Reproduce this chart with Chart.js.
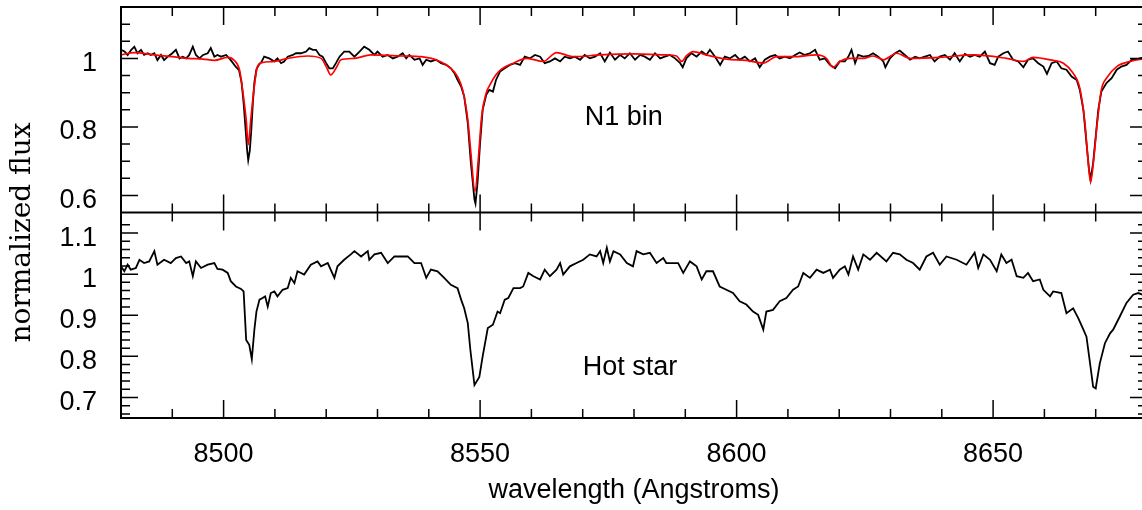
<!DOCTYPE html>
<html>
<head>
<meta charset="utf-8">
<script src="https://cdn.jsdelivr.net/npm/chart.js@4.4.1/dist/chart.umd.min.js"></script>
<style>
  html, body { margin: 0; padding: 0; background: #fff; overflow: hidden; }
  #wrap { position: relative; width: 1147px; height: 510px; }
</style>
</head>
<body>
<div id="wrap"><canvas id="spectra"></canvas></div>
<script>
// N1 bin observed spectrum (black, top panel)
const n1Wave = [
  8480, 8480.7, 8481.3, 8482.0, 8482.6, 8483.2, 8483.9, 8484.5, 8485.2, 8485.8,
  8486.5, 8487.1, 8487.8, 8488.4, 8489.1, 8490.0, 8490.7, 8491.4, 8492.0, 8492.7,
  8493.3, 8494.0, 8494.6, 8495.3, 8496.0, 8496.9, 8497.5, 8498.2, 8498.8, 8499.5,
  8500.5, 8501.4, 8502.4, 8503.0, 8503.5, 8503.9, 8504.3, 8504.6, 8504.8, 8505.1,
  8505.4, 8505.7, 8506.0, 8506.4, 8506.9, 8507.4, 8507.9, 8508.9, 8509.9, 8510.5,
  8511.2, 8511.8, 8512.5, 8513.5, 8514.1, 8515.1, 8516.1, 8516.7, 8517.4, 8518.0,
  8518.7, 8519.3, 8520.0, 8520.6, 8521.3, 8521.9, 8522.6, 8523.5, 8524.5, 8525.5,
  8526.5, 8527.4, 8528.4, 8529.4, 8530.0, 8531.0, 8532.0, 8533.0, 8533.9, 8534.9,
  8535.6, 8536.2, 8537.2, 8538.2, 8538.8, 8539.5, 8540.4, 8541.4, 8542.4, 8543.4,
  8544.3, 8545.0, 8545.6, 8546.3, 8546.9, 8547.6, 8548.2, 8548.9, 8549.1, 8549.5,
  8550.0, 8550.5, 8551.2, 8551.8, 8552.5, 8553.1, 8553.9, 8554.8, 8555.8, 8556.8,
  8557.8, 8558.7, 8559.7, 8560.7, 8561.7, 8562.6, 8563.6, 8564.6, 8565.6, 8566.5,
  8567.5, 8568.5, 8569.5, 8570.4, 8571.4, 8572.4, 8573.4, 8574.3, 8575.3, 8576.3,
  8577.3, 8578.2, 8579.2, 8580.2, 8581.2, 8582.1, 8583.1, 8584.1, 8585.1, 8586.0,
  8587.0, 8588.0, 8589.0, 8589.5, 8590.2, 8591.2, 8592.2, 8593.2, 8594.1, 8594.8,
  8595.8, 8596.8, 8597.7, 8598.7, 8599.7, 8600.6, 8601.6, 8602.6, 8603.6, 8604.5,
  8605.5, 8606.5, 8607.5, 8608.4, 8609.4, 8610.4, 8611.4, 8612.3, 8613.3, 8614.3,
  8615.3, 8616.2, 8617.2, 8618.2, 8619.2, 8620.1, 8621.1, 8621.8, 8622.4, 8623.1,
  8623.7, 8624.7, 8625.7, 8626.6, 8627.6, 8628.6, 8629.0, 8629.9, 8630.9, 8631.8,
  8632.8, 8633.8, 8634.8, 8635.7, 8636.7, 8637.7, 8638.6, 8639.6, 8640.6, 8641.6,
  8642.5, 8643.5, 8644.5, 8645.5, 8646.4, 8647.4, 8648.4, 8649.4, 8650.3, 8651.0,
  8652.0, 8652.9, 8653.9, 8654.9, 8655.9, 8656.8, 8657.8, 8658.8, 8659.8, 8660.5,
  8661.4, 8662.4, 8663.3, 8664.3, 8665.3, 8666.3, 8666.9, 8667.6, 8668.2, 8668.7,
  8669.0, 8669.5, 8670.0, 8670.5, 8671.1, 8672.1, 8673.1, 8674.1, 8675.0, 8676.0,
  8677.0, 8678.0, 8680.0
];
const n1Flux = [
  1.025, 1.020, 1.010, 1.025, 1.034, 1.015, 1.025, 1.010, 1.015, 1.010,
  1.015, 0.995, 1.010, 0.995, 1.005, 1.015, 1.025, 1.000, 1.005, 1.000,
  1.010, 1.034, 1.010, 1.000, 1.010, 1.015, 1.030, 1.005, 1.010, 1.005,
  1.010, 0.995, 0.975, 0.966, 0.930, 0.870, 0.790, 0.730, 0.703, 0.730,
  0.790, 0.870, 0.930, 0.968, 0.982, 0.990, 1.005, 1.000, 0.991, 1.000,
  0.986, 0.991, 1.005, 1.010, 1.015, 1.015, 1.020, 1.030, 1.025, 1.025,
  1.010, 1.005, 0.986, 0.971, 0.971, 0.986, 1.005, 1.020, 1.020, 1.005,
  1.020, 1.034, 1.025, 1.010, 1.020, 1.005, 1.010, 1.000, 1.005, 1.015,
  1.000, 1.010, 0.996, 1.000, 0.981, 0.996, 0.991, 0.996, 0.986, 0.981,
  0.971, 0.957, 0.937, 0.918, 0.889, 0.811, 0.695, 0.588, 0.576, 0.637,
  0.753, 0.850, 0.894, 0.908, 0.903, 0.937, 0.962, 0.971, 0.981, 0.986,
  0.981, 1.005, 1.000, 1.010, 1.005, 0.986, 0.991, 1.000, 0.991, 1.005,
  1.000, 1.005, 0.996, 1.010, 1.000, 1.005, 1.015, 0.991, 1.017, 0.996,
  1.010, 1.000, 1.015, 0.996, 1.010, 1.005, 0.996, 1.015, 1.000, 1.005,
  1.010, 1.000, 0.986, 0.974, 1.000, 1.015, 1.005, 1.020, 1.010, 1.025,
  1.005, 0.981, 1.005, 1.000, 1.010, 0.996, 1.005, 0.991, 1.000, 0.974,
  0.996, 1.005, 1.010, 1.000, 1.005, 1.000, 1.010, 1.017, 1.010, 1.015,
  1.025, 0.996, 1.000, 0.981, 0.971, 0.991, 0.991, 1.005, 1.025, 0.986,
  1.010, 1.005, 1.007, 1.015, 1.005, 0.991, 0.974, 1.000, 1.015, 1.023,
  1.010, 0.996, 1.005, 1.000, 1.005, 1.010, 0.991, 1.005, 1.010, 0.996,
  1.015, 0.991, 1.013, 1.005, 1.010, 1.005, 1.020, 0.986, 0.981, 1.005,
  1.015, 1.020, 0.996, 0.991, 0.974, 0.996, 1.000, 0.986, 0.976, 0.955,
  0.986, 0.991, 0.971, 0.967, 0.947, 0.937, 0.908, 0.850, 0.753, 0.675,
  0.646, 0.695, 0.772, 0.850, 0.903, 0.928, 0.942, 0.967, 0.976, 0.981,
  0.996, 0.998, 1.005
];

// model fit (red, top panel)
const fitWave = [
  8480, 8482.6, 8486.5, 8490.0, 8493.0, 8496.0, 8498.2, 8500.8, 8502.1, 8503.1,
  8503.7, 8504.4, 8504.8, 8505.3, 8505.9, 8506.6, 8507.6, 8509.9, 8512.5, 8516.4,
  8519.0, 8520.0, 8520.9, 8521.9, 8522.9, 8525.5, 8528.7, 8535.2, 8538.5, 8541.7,
  8544.3, 8545.6, 8546.6, 8547.6, 8548.2, 8549.0, 8549.7, 8550.3, 8551.2, 8552.1,
  8553.1, 8554.1, 8556.5, 8559.1, 8562.3, 8564.9, 8568.2, 8573.4, 8579.8, 8586.3,
  8588.3, 8589.3, 8590.2, 8591.5, 8594.1, 8598.0, 8601.9, 8605.2, 8607.8, 8611.0,
  8615.6, 8617.5, 8618.8, 8620.1, 8622.1, 8624.7, 8626.6, 8628.6, 8631.2, 8633.8,
  8639.6, 8646.1, 8652.6, 8655.9, 8657.8, 8661.7, 8663.7, 8665.6, 8666.9, 8667.9,
  8668.5, 8669.0, 8669.6, 8670.3, 8671.1, 8672.1, 8674.1, 8676.7, 8680.0
];
const fitFlux = [
  1.010, 1.017, 1.010, 1.005, 1.000, 0.998, 0.994, 1.003, 0.994, 0.966,
  0.908, 0.821, 0.748, 0.821, 0.908, 0.976, 0.988, 0.991, 1.000, 1.007,
  1.000, 0.976, 0.952, 0.971, 0.996, 1.000, 1.010, 1.007, 1.005, 0.994,
  0.971, 0.947, 0.908, 0.821, 0.724, 0.612, 0.714, 0.830, 0.899, 0.928,
  0.952, 0.968, 0.986, 1.000, 0.991, 1.017, 1.005, 1.010, 1.013, 1.010,
  1.007, 0.991, 1.007, 1.020, 1.010, 0.998, 0.994, 0.986, 1.005, 1.005,
  1.010, 1.000, 0.974, 0.991, 1.000, 1.000, 1.007, 0.996, 1.015, 1.000,
  1.003, 1.010, 1.000, 0.991, 1.003, 0.994, 0.986, 0.957, 0.913, 0.811,
  0.704, 0.638, 0.704, 0.811, 0.908, 0.942, 0.976, 0.991, 1.000
];

// hot star spectrum (black, bottom panel)
const hotWave = [
  8480, 8480.65, 8481.3, 8481.9, 8482.9, 8483.6, 8484.5, 8485.5, 8486.5, 8487.1,
  8488.4, 8489.7, 8490.7, 8491.7, 8492.7, 8493.3, 8494.0, 8494.6, 8495.6, 8496.9,
  8498.2, 8498.8, 8499.8, 8500.8, 8501.4, 8502.4, 8503.4, 8503.9, 8504.4, 8505.0,
  8505.5, 8506.0, 8506.4, 8507.0, 8507.6, 8508.1, 8508.6, 8509.2, 8509.9, 8510.5,
  8511.5, 8512.5, 8513.1, 8513.8, 8514.4, 8515.7, 8517.0, 8518.3, 8519.0, 8520.3,
  8521.6, 8522.2, 8523.5, 8524.8, 8525.5, 8526.8, 8528.1, 8528.4, 8529.4, 8530.7,
  8532.0, 8533.3, 8534.6, 8535.9, 8537.2, 8538.5, 8539.5, 8540.4, 8541.7, 8543.0,
  8544.3, 8545.6, 8546.3, 8546.9, 8547.6, 8548.1, 8548.9, 8549.85, 8550.5, 8551.5,
  8552.5, 8553.4, 8553.9, 8554.8, 8555.5, 8556.5, 8557.8, 8558.4, 8559.4, 8560.4,
  8561.7, 8562.6, 8563.6, 8564.9, 8565.6, 8566.2, 8567.5, 8568.8, 8570.1, 8571.4,
  8572.7, 8573.4, 8574.0, 8574.7, 8575.3, 8576.0, 8577.3, 8578.6, 8579.8, 8580.5,
  8581.8, 8583.1, 8584.4, 8585.7, 8586.3, 8587.6, 8588.6, 8589.6, 8590.9, 8592.2,
  8593.2, 8594.1, 8595.4, 8596.7, 8598.0, 8599.3, 8600.6, 8601.9, 8603.2, 8604.2,
  8605.2, 8605.8, 8607.1, 8608.4, 8609.7, 8611.0, 8612.0, 8613.0, 8614.3, 8615.6,
  8616.9, 8618.2, 8618.8, 8620.1, 8621.1, 8621.8, 8622.7, 8623.7, 8624.7, 8626.0,
  8627.3, 8629.2, 8630.5, 8631.8, 8633.1, 8634.4, 8635.7, 8637.0, 8638.3, 8639.6,
  8640.9, 8642.9, 8644.8, 8646.4, 8647.1, 8648.1, 8649.4, 8650.7, 8651.6, 8652.6,
  8653.6, 8654.6, 8655.9, 8656.8, 8657.8, 8659.1, 8659.8, 8661.1, 8661.7, 8663.3,
  8664.3, 8665.6, 8666.6, 8667.6, 8668.2, 8668.9, 8669.5, 8670.0, 8670.8, 8671.8,
  8672.8, 8673.4, 8674.7, 8676.0, 8677.3, 8678.3, 8680.0
];
const hotFlux = [
  1.019, 1.007, 1.023, 1.011, 1.015, 1.035, 1.027, 1.031, 1.056, 1.023,
  1.035, 1.027, 1.039, 1.043, 1.027, 1.031, 0.995, 1.031, 1.015, 1.023,
  1.027, 1.013, 1.011, 1.003, 0.983, 0.970, 0.964, 0.958, 0.840, 0.828,
  0.793, 0.865, 0.909, 0.938, 0.942, 0.946, 0.921, 0.954, 0.958, 0.946,
  0.962, 0.966, 0.991, 0.978, 1.007, 0.999, 1.023, 1.031, 1.019, 1.027,
  0.991, 1.019, 1.035, 1.048, 1.056, 1.043, 1.056, 1.035, 1.048, 1.052,
  1.027, 1.043, 1.043, 1.043, 1.027, 1.027, 0.991, 1.011, 1.007, 0.991,
  0.974, 0.966, 0.938, 0.917, 0.881, 0.816, 0.730, 0.750, 0.800, 0.869,
  0.877, 0.909, 0.905, 0.938, 0.942, 0.966, 0.966, 0.970, 1.003, 0.995,
  0.987, 1.011, 0.995, 1.011, 1.027, 0.999, 1.019, 1.027, 1.035, 1.048,
  1.043, 1.056, 1.027, 1.064, 1.031, 1.056, 1.048, 1.027, 1.019, 1.056,
  1.048, 1.052, 1.027, 1.039, 1.027, 1.027, 1.027, 1.003, 1.031, 1.019,
  0.987, 1.007, 1.007, 0.970, 0.962, 0.954, 0.934, 0.926, 0.909, 0.901,
  0.865, 0.909, 0.913, 0.934, 0.942, 0.962, 0.970, 1.003, 0.991, 1.011,
  1.003, 1.011, 0.991, 1.011, 1.019, 0.999, 1.043, 1.011, 1.048, 1.035,
  1.052, 1.031, 1.052, 1.048, 1.035, 1.027, 1.011, 1.043, 1.052, 1.023,
  1.043, 1.035, 1.023, 1.052, 1.015, 1.048, 1.035, 1.007, 1.048, 1.027,
  1.035, 0.995, 0.991, 1.003, 0.983, 0.987, 0.962, 0.946, 0.958, 0.954,
  0.905, 0.917, 0.893, 0.865, 0.848, 0.783, 0.726, 0.722, 0.783, 0.832,
  0.856, 0.865, 0.897, 0.930, 0.950, 0.954, 0.946
];

const xTickValues = [8500, 8550, 8600, 8650];
const topTickValues = [0.6, 0.8, 1];
const botTickValues = [0.7, 0.8, 0.9, 1, 1.1];

const SANS = '"Liberation Sans", Arial, sans-serif';

const pairs = (xs, ys) => xs.map((x, i) => ({ x: x, y: ys[i] }));

const noPad = (s) => {
  s.paddingTop = 0;
  s.paddingBottom = 0;
  s.paddingLeft = 0;
  s.paddingRight = 0;
};

const frameTicks = {
  id: 'frameTicks',
  afterDatasetsDraw(chart) {
    const ctx = chart.ctx;
    const x = chart.scales.x;
    const yt = chart.scales.yTop;
    const yb = chart.scales.yBot;
    const L = chart.chartArea.left;
    const R = chart.chartArea.right;
    ctx.save();
    ctx.strokeStyle = '#000';
    ctx.lineWidth = 1.5;
    ctx.beginPath();
    // x ticks, every 10 A, longer every 50
    for (let w = 8490; w < 8680; w += 10) {
      const len = w % 50 === 0 ? 18 : 9;
      const px = x.getPixelForValue(w);
      [[yt.top, 1], [yt.bottom, -1], [yb.top, 1], [yb.bottom, -1]].forEach(([y0, d]) => {
        ctx.moveTo(px, y0);
        ctx.lineTo(px, y0 + d * len);
      });
    }
    // top panel y ticks, every 0.05, longer every 0.2
    for (let i = 1; i < 12; i++) {
      const v = 0.55 + i * 0.05;
      const len = Math.abs(v * 5 - Math.round(v * 5)) < 1e-6 ? 17 : 9;
      const py = yt.getPixelForValue(v);
      ctx.moveTo(L, py); ctx.lineTo(L + len, py);
      ctx.moveTo(R, py); ctx.lineTo(R - len, py);
    }
    // bottom panel y ticks, every 0.02, longer every 0.1
    for (let i = 1; i < 25; i++) {
      const v = 0.66 + (i - 1) * 0.02;
      const len = Math.abs(v * 10 - Math.round(v * 10)) < 1e-6 ? 17 : 9;
      const py = yb.getPixelForValue(v);
      ctx.moveTo(L, py); ctx.lineTo(L + len, py);
      ctx.moveTo(R, py); ctx.lineTo(R - len, py);
    }
    ctx.stroke();

    ctx.lineWidth = 2;
    ctx.strokeRect(L, yt.top, R - L, yb.bottom - yt.top);
    ctx.beginPath();
    ctx.moveTo(L, yt.bottom);
    ctx.lineTo(R, yt.bottom);
    ctx.stroke();

    // panel labels
    ctx.fillStyle = '#000';
    ctx.font = '27px ' + SANS;
    ctx.textAlign = 'left';
    ctx.textBaseline = 'middle';
    ctx.fillText('N1 bin', x.getPixelForValue(8570.4), yt.getPixelForValue(0.827));
    ctx.fillText('Hot star', x.getPixelForValue(8570.0), yb.getPixelForValue(0.772));

    // shared y axis title
    ctx.font = '28px "DejaVu Serif", serif';
    ctx.translate(30, (yt.top + yb.bottom) / 2 + 20);
    ctx.rotate(-Math.PI / 2);
    ctx.textAlign = 'center';
    ctx.textBaseline = 'alphabetic';
    ctx.fillText('normalized flux', 0, 0);
    ctx.restore();
  },
};

function yScale(min, max, ticks, weight) {
  return {
    type: 'linear',
    position: 'left',
    stack: 'flux',
    stackWeight: 1,
    weight: weight,
    min: min,
    max: max,
    grid: { display: false, drawTicks: false },
    border: { display: false },
    afterBuildTicks: (s) => { s.ticks = ticks.map((v) => ({ value: v })); },
    afterFit: (s) => { s.width = 121; noPad(s); },
    ticks: {
      color: '#000',
      padding: 24,
      labelOffset: 5,
      autoSkip: false,
      font: { family: SANS, size: 27 },
      callback: (v) => (v === 1 ? '1' : v.toFixed(1)),
    },
  };
}

new Chart(document.getElementById('spectra').getContext('2d'), {
  type: 'line',
  data: {
    datasets: [
      {
        label: 'N1 bin',
        data: pairs(n1Wave, n1Flux),
        yAxisID: 'yTop',
        borderColor: '#000',
        borderWidth: 1.8,
        pointRadius: 0,
        tension: 0,
        order: 2,
      },
      {
        label: 'fit',
        data: pairs(fitWave, fitFlux),
        yAxisID: 'yTop',
        borderColor: '#ff0000',
        borderWidth: 1.7,
        pointRadius: 0,
        cubicInterpolationMode: 'monotone',
        order: 1,
      },
      {
        label: 'Hot star',
        data: pairs(hotWave, hotFlux),
        yAxisID: 'yBot',
        borderColor: '#000',
        borderWidth: 1.8,
        pointRadius: 0,
        tension: 0,
        order: 2,
      },
    ],
  },
  options: {
    responsive: true,
    maintainAspectRatio: false,
    animation: false,
    layout: { padding: { top: 7, left: 0, right: 0, bottom: 0 } },
    plugins: { legend: { display: false }, tooltip: { enabled: false } },
    scales: {
      x: {
        type: 'linear',
        position: 'bottom',
        min: 8480,
        max: 8680,
        grid: { display: false, drawTicks: false },
        border: { display: false },
        afterBuildTicks: (s) => { s.ticks = xTickValues.map((v) => ({ value: v })); },
        afterFit: (s) => { s.height = 92; noPad(s); },
        ticks: {
          color: '#000',
          padding: 20,
          maxRotation: 0,
          autoSkip: false,
          font: { family: SANS, size: 27 },
          callback: (v) => String(v),
        },
        title: {
          display: true,
          text: 'wavelength (Angstroms)',
          color: '#000',
          font: { family: SANS, size: 27 },
          padding: { top: 0, bottom: 3 },
        },
      },
      yTop: yScale(0.55, 1.15, topTickValues, 2),
      yBot: yScale(0.65, 1.15, botTickValues, 1),
    },
  },
  plugins: [frameTicks],
});
</script>
</body>
</html>
